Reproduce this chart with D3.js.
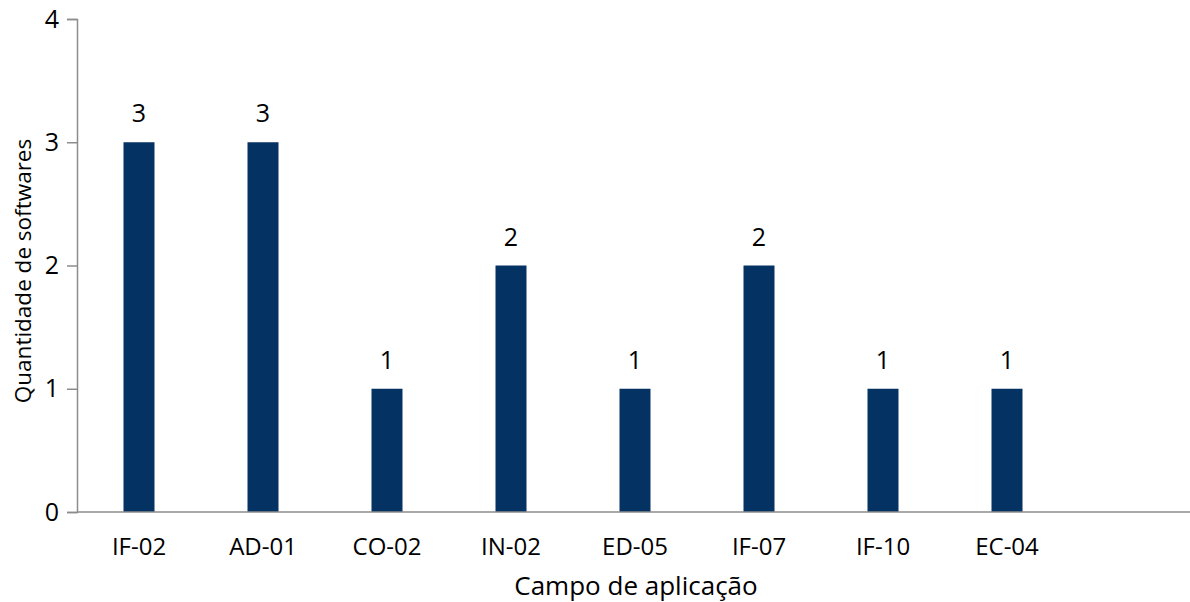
<!DOCTYPE html>
<html>
<head>
<meta charset="utf-8">
<script src="https://cdn.jsdelivr.net/npm/d3@7"></script>
<style>
  html, body { margin: 0; padding: 0; background: #fff; }
  svg { display: block; font-family: "Open Sans", "Liberation Sans", sans-serif; }
</style>
</head>
<body>
<svg id="chart" width="1190" height="602"></svg>
<script>
const categories = ["IF-02", "AD-01", "CO-02", "IN-02", "ED-05", "IF-07", "IF-10", "EC-04"];
const counts = [3, 3, 1, 2, 1, 2, 1, 1];
const yTicks = [0, 1, 2, 3, 4];

(function draw() {
  const svg = d3.select("#chart");
  const font = '"Open Sans", "Liberation Sans", sans-serif';
  const plotLeft = 77, plotTop = 19, plotBottom = 512, plotRight = 1190;
  const slot = 124;

  const x = d3.scaleBand()
    .domain(categories)
    .range([plotLeft, plotLeft + slot * categories.length])
    .paddingInner(0.75)
    .paddingOuter(0.375);

  const y = d3.scaleLinear().domain([0, 4]).range([plotBottom, plotTop]);

  const axisColor = "#8c8c8c";

  // y axis
  const yAxis = svg.append("g")
    .attr("transform", `translate(${plotLeft},0)`)
    .call(d3.axisLeft(y).tickValues(yTicks).tickFormat(d3.format("d")).tickSize(10).tickPadding(8))
    .attr("font-family", font);
  yAxis.select(".domain").attr("stroke", axisColor).attr("stroke-width", 1.5);
  yAxis.selectAll(".tick line").attr("stroke", axisColor).attr("stroke-width", 1.5);
  yAxis.selectAll(".tick text").attr("fill", "#000").style("font-size", "25px");

  // bars
  svg.append("g").selectAll("rect")
    .data(categories)
    .join("rect")
    .attr("x", d => x(d))
    .attr("width", x.bandwidth())
    .attr("y", (d, i) => y(counts[i]))
    .attr("height", (d, i) => y(0) - y(counts[i]))
    .attr("fill", "#043263");

  // value labels
  svg.append("g").selectAll("text")
    .data(categories)
    .join("text")
    .attr("x", d => x(d) + x.bandwidth() / 2)
    .attr("y", (d, i) => y(counts[i]) - 20)
    .attr("text-anchor", "middle")
    .style("font-size", "25px")
    .attr("fill", "#000")
    .text((d, i) => counts[i]);

  // x axis
  const xAxis = svg.append("g")
    .attr("transform", `translate(0,${plotBottom})`)
    .call(d3.axisBottom(x).tickSize(0).tickPadding(26))
    .attr("font-family", font);
  xAxis.select(".domain").remove();
  xAxis.selectAll(".tick text").attr("fill", "#000").style("font-size", "24px");
  svg.append("line")
    .attr("x1", plotLeft).attr("x2", plotRight)
    .attr("y1", plotBottom).attr("y2", plotBottom)
    .attr("stroke", axisColor).attr("stroke-width", 1.5);

  // axis titles
  svg.append("text")
    .attr("x", 636).attr("y", 595)
    .attr("text-anchor", "middle")
    .style("font-size", "26px")
    .attr("fill", "#000")
    .text("Campo de aplicação");

  svg.append("text")
    .attr("transform", "translate(31,271) rotate(-90)")
    .attr("text-anchor", "middle")
    .style("font-size", "22.5px")
    .attr("fill", "#000")
    .text("Quantidade de softwares");
})();
</script>
</body>
</html>
